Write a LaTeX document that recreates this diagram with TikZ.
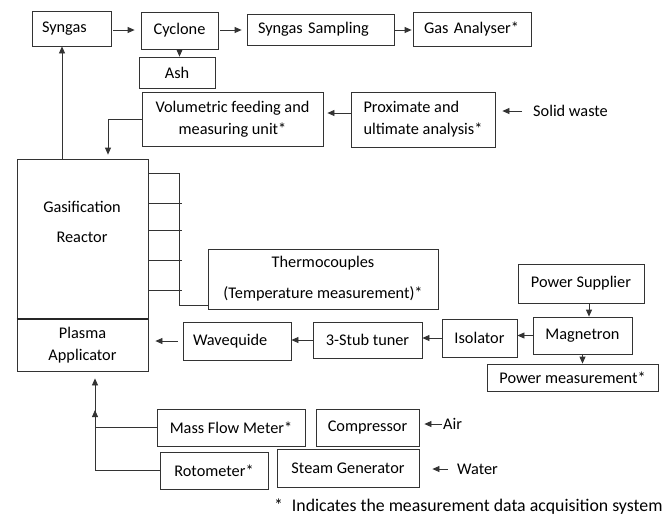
\documentclass[tikz,border=0pt]{standalone}
\usepackage{fontspec}
\setmainfont{Carlito}
\usetikzlibrary{arrows.meta}
\newcommand\fs{\fontsize{16.3}{22}\selectfont}
\newcommand\fsnote{\fontsize{17.8}{22}\selectfont}
\begin{document}
\begin{tikzpicture}[x=1pt,y=-1pt,
  box/.style={draw=black!80, line width=0.8pt, inner sep=0pt, font=\fs, text=black, align=center},
  arr/.style={draw=black!80, line width=0.8pt, -{Triangle[length=7pt,width=6pt]}},
  ln/.style={draw=black!80, line width=0.8pt},
  lbl/.style={font=\fs, text=black, inner sep=0pt}]
\useasboundingbox (0,0) rectangle (668,515);

% boxes
\node[box, minimum width=79pt, minimum height=35pt, text width=59pt, inner xsep=10pt, align=left] (syn) at (71.5,28.5) {Syngas};
\node[box, minimum width=77pt, minimum height=37pt] (cyc) at (179.5,30.5) {Cyclone};
\node[box, minimum width=147pt, minimum height=31pt, text width=125pt, inner xsep=11pt, align=left] (ssamp) at (320.5,29.5) {Syngas Sampling};
\node[box, minimum width=118pt, minimum height=34pt, text width=96pt, inner xsep=11pt, align=left] (gas) at (472,29) {Gas Analyser*};
\node[box, minimum width=76pt, minimum height=31pt] (ash) at (177,72.5) {Ash};
\node[box, minimum width=181pt, minimum height=54pt] (vol) at (232.5,119) {Volumetric feeding and\\measuring unit*};
\node[box, minimum width=144pt, minimum height=55pt, align=left] (prox) at (423,119.5) {Proximate and\\ultimate analysis*};
\node[lbl, anchor=west] (sw) at (533,111) {Solid waste};
\node[box, minimum width=131pt, minimum height=160pt] (reac) at (82.5,239) {};
\node[lbl, align=center] (reactxt) at (82,222) {Gasification\\[8pt]Reactor};
\node[box, minimum width=131pt, minimum height=52pt] (plas) at (82.5,345) {Plasma\\Applicator};
\node[box, minimum width=230pt, minimum height=60pt] (thermo) at (323,279) {Thermocouples\\[9pt](Temperature measurement)*};
\node[box, minimum width=108pt, minimum height=38pt, text width=88pt, inner xsep=10pt, align=left] (wave) at (237,341) {Wavequide};
\node[box, minimum width=109pt, minimum height=36pt] (stub) at (367.5,340) {3-Stub tuner};
\node[box, minimum width=75pt, minimum height=38pt] (iso) at (479.5,338) {Isolator};
\node[box, minimum width=126pt, minimum height=39pt] (psup) at (581,283.5) {Power Supplier};
\node[box, minimum width=99pt, minimum height=37pt] (mag) at (582.5,335.5) {Magnetron};
\node[box, minimum width=171pt, minimum height=27pt] (pmeas) at (572.5,377.5) {Power measurement*};
\node[box, minimum width=148pt, minimum height=37pt] (mfm) at (231,427.5) {Mass Flow Meter*};
\node[box, minimum width=103pt, minimum height=37pt] (comp) at (367.5,427.5) {Compressor};
\node[box, minimum width=108pt, minimum height=37pt] (rot) at (214,470.5) {Rotometer*};
\node[box, minimum width=142pt, minimum height=38pt] (steam) at (348,468) {Steam Generator};
\node[lbl, anchor=west] (air) at (443,424) {Air};
\node[lbl, anchor=west] (water) at (457,469) {Water};
\node[lbl, anchor=west, font=\fsnote] (note) at (274,507) {*\enspace Indicates the measurement data acquisition system};

% thick separator
\draw[line width=2pt, black!85] (reac.south west) -- (reac.south east);

% helper coordinates
\coordinate (row1) at (0,30);
\coordinate (upx) at (62,0);
\coordinate (r2) at (0,113);
\coordinate (fx) at (108,0);
\coordinate (tcx) at (179,173);
\coordinate (tcb) at (179,305);
\coordinate (s1) at (182,203);
\coordinate (s2) at (182,230);
\coordinate (s3) at (182,260);
\coordinate (s4) at (182,290);
\coordinate (px) at (589,0);
\coordinate (vx) at (95,0);
\coordinate (tip2) at (95,410);

% top row
\draw[arr, shorten <=2pt, shorten >=6pt] (syn.east |- row1) -- (cyc.west |- row1);
\draw[arr, shorten <=2pt, shorten >=5pt] (cyc.east |- row1) -- (ssamp.west |- row1);
\draw[arr, shorten >=1pt] (ssamp.east |- row1) -- (gas.west |- row1);
\draw[arr] (cyc.south) -- (cyc.south |- ash.north);
\draw[arr] (reac.north -| upx) -- (syn.south -| upx);

% feeding
\draw[arr, shorten >=4pt] (prox.west |- r2) -- (vol.east |- r2);
\draw[arr, shorten <=11pt, shorten >=7pt] (sw.west) -- (sw.west -| prox.east);
\draw[arr, shorten >=4pt] (vol.west) -| (reac.north -| fx);

% thermocouples
\draw[ln] (reac.east |- tcx) -- (tcx) -- (tcb) -- (tcb -| thermo.west);
\foreach \s in {s1,s2,s3,s4} \draw[ln] (reac.east |- \s) -- (\s);

% microwave line
\draw[arr, shorten <=5pt, shorten >=7pt] (wave.west) -- (wave.west -| plas.east);
\draw[arr] (stub.west) -- (stub.west -| wave.east);
\draw[arr] (iso.west) -- (iso.west -| stub.east);
\draw[arr] (mag.west) -- (mag.west -| iso.east);
\draw[arr] (psup.south -| px) -- (mag.north -| px);
\draw[arr] (mag.south) -- (mag.south |- pmeas.north);

% gases
\draw[arr, shorten >=7pt] (mfm.west) -| (plas.south -| vx);
\draw[arr] (rot.west) -| (tip2);
\draw[arr, shorten <=1pt, shorten >=5pt] (air.west) -- (air.west -| comp.east);
\draw[arr, shorten <=9pt, shorten >=13pt] (water.west) -- (water.west -| steam.east);
\end{tikzpicture}
\end{document}
